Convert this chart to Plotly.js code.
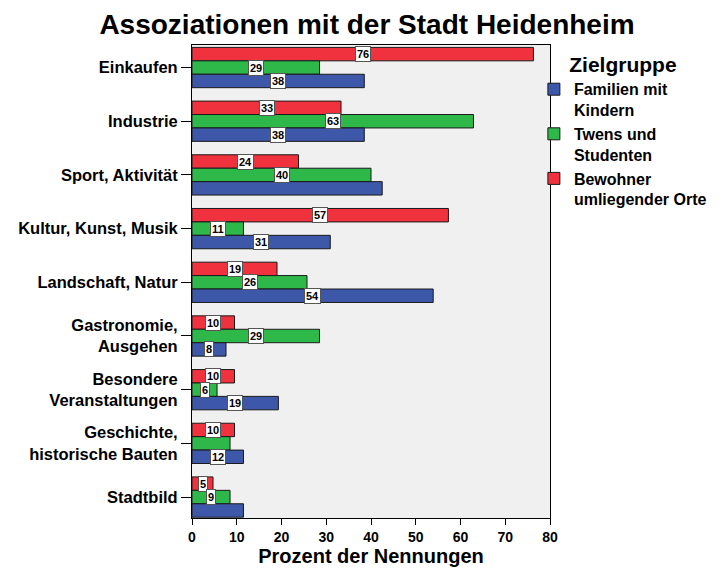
<!DOCTYPE html>
<html>
<head>
<meta charset="utf-8">
<script src="https://cdn.plot.ly/plotly-3.0.1.min.js"></script>
<style>html,body{margin:0;padding:0;background:#fff;}#chart{width:726px;height:576px;}</style>
</head>
<body>
<div id="chart"></div>
<script>
// Categories (top to bottom)
const categories = [
  "Einkaufen",
  "Industrie",
  "Sport, Aktivität",
  "Kultur, Kunst, Musik",
  "Landschaft, Natur",
  "Gastronomie,<br>Ausgehen",
  "Besondere<br>Veranstaltungen",
  "Geschichte,<br>historische Bauten",
  "Stadtbild"
];
// Series values (percent of mentions)
const familien = [38.5, 38.5, 42.5, 30.9, 53.9, 7.6, 19.3, 11.5, 11.5];
const twens    = [28.5, 62.9, 40.0, 11.5, 25.7, 28.5, 5.6, 8.5, 8.5];
const bewohner = [76.3, 33.3, 23.8, 57.3, 19.0, 9.5, 9.5, 9.5, 4.7];
// Value labels as printed (empty = no label)
const familienLabels = ["38", "38", "", "31", "54", "8", "19", "12", ""];
const twensLabels    = ["29", "63", "40", "11", "26", "29", "6", "", "9"];
const bewohnerLabels = ["76", "33", "24", "57", "19", "10", "10", "10", "5"];
// Series names
const seriesNames = ["Familien mit<br>Kindern", "Twens und<br>Studenten", "Bewohner<br>umliegender Orte"];
const xTicks = [0, 10, 20, 30, 40, 50, 60, 70, 80];

const colors = {fam: "#3d57a9", tw: "#2fb84a", bew: "#ef323d"};
const FONT = "Liberation Sans, Arial, Helvetica, sans-serif";
const bargap = 0.25;

function barTrace(name, vals, color) {
  return {
    type: "bar", orientation: "h", name: name,
    x: vals, y: categories,
    marker: {color: color, line: {color: "#1a1a1a", width: 1}},
    hoverinfo: "x+name"
  };
}

// Trace order: red (top of group), green, blue (bottom of group)
const traces = [
  barTrace(seriesNames[2], bewohner, colors.bew),
  barTrace(seriesNames[1], twens, colors.tw),
  barTrace(seriesNames[0], familien, colors.fam)
];

const barW = (1 - bargap) / 3;
const seriesForLabels = [[bewohner, bewohnerLabels], [twens, twensLabels], [familien, familienLabels]];
const annotations = [];
seriesForLabels.forEach(function (pair, t) {
  const vals = pair[0], labs = pair[1];
  vals.forEach(function (v, i) {
    if (labs[i] === "") return;
    annotations.push({
      xref: "x", yref: "y", x: v / 2, y: i + (t - 1) * barW,
      text: "<b>" + labs[i] + "</b>", showarrow: false,
      font: {family: FONT, size: 11, color: "#000"},
      bgcolor: "#ffffff", bordercolor: "#555555", borderwidth: 1, borderpad: 1,
      xanchor: "center", yanchor: "middle"
    });
  });
});

const layout = {
  width: 726, height: 576,
  margin: {l: 192, r: 176, t: 45, b: 58},
  paper_bgcolor: "#ffffff",
  plot_bgcolor: "#f0f0f0",
  barmode: "group",
  bargap: bargap,
  bargroupgap: 0,
  font: {family: FONT, color: "#000"},
  title: {
    text: "<b>Assoziationen mit der Stadt Heidenheim</b>",
    font: {family: FONT, size: 28, color: "#000"},
    xref: "container", x: 0.5055, xanchor: "center",
    yref: "container", y: 0.958, yanchor: "middle"
  },
  xaxis: {
    range: [0, 80], tickvals: xTicks, ticktext: xTicks.map(String),
    ticks: "outside", ticklen: 6, tickcolor: "#000", tickwidth: 1,
    showline: true, mirror: true, linecolor: "#000", linewidth: 1,
    showgrid: false, zeroline: false,
    tickfont: {family: FONT, size: 14, color: "#000", weight: "bold"},
    title: {text: "<b>Prozent der Nennungen</b>", font: {family: FONT, size: 20, color: "#000"}, standoff: 2},
    fixedrange: true
  },
  yaxis: {
    type: "category", categoryorder: "array", categoryarray: categories,
    range: [8.39, -0.42],
    ticks: "outside", ticklen: 10, tickcolor: "#000", tickwidth: 1,
    showline: true, mirror: true, linecolor: "#000", linewidth: 1,
    showgrid: false, zeroline: false,
    tickfont: {family: FONT, size: 16.5, color: "#000", weight: "bold"},
    fixedrange: true
  },
  legend: {
    x: 0.955, xanchor: "left", y: 1.0, yanchor: "top",
    traceorder: "reversed",
    valign: "top",
    font: {family: FONT, size: 16, color: "#000", weight: "bold"},
    title: {text: "<b>Zielgruppe</b>", side: "top center", font: {family: FONT, size: 21, color: "#000"}},
    bgcolor: "rgba(0,0,0,0)", borderwidth: 0
  },
  annotations: annotations,
  showlegend: true
};

Plotly.newPlot("chart", traces, layout, {displayModeBar: false, staticPlot: true});
</script>
</body>
</html>
